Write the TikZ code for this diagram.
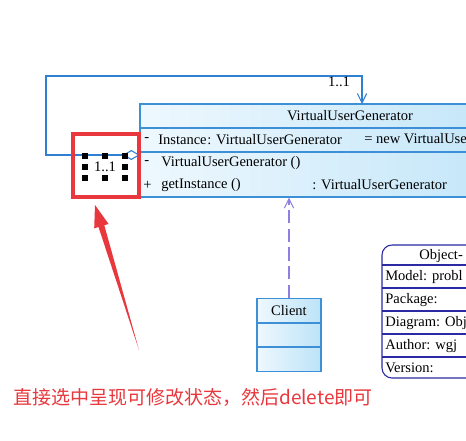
\documentclass[tikz,border=0pt]{standalone}
\usepackage{fontspec}
\setmainfont{Liberation Serif}
\newfontfamily\cjk{Noto Sans CJK SC}
\usetikzlibrary{arrows.meta,shapes.geometric}
\definecolor{clsborder}{HTML}{3D8FD6}
\definecolor{clsL}{HTML}{EEF8FE}
\definecolor{clsR}{HTML}{BCE3F8}
\definecolor{assocc}{HTML}{2F7FD3}
\definecolor{depc}{HTML}{8C80E0}
\definecolor{navy}{HTML}{2A2AA6}
\definecolor{hl}{HTML}{E8383D}
\begin{document}
\begin{tikzpicture}[x=0.75pt,y=-0.75pt,
  txt/.style={inner sep=0pt, font=\fontsize{10.9}{13}\selectfont},
  wtxt/.style={txt, anchor=west},
  classbox/.style={draw=clsborder, line width=0.8pt, left color=clsL, right color=clsR, inner sep=0pt},
  clsline/.style={draw=clsborder, line width=0.8pt},
  assocline/.style={draw=assocc, line width=0.8pt},
  depline/.style={draw=depc, line width=0.8pt, dash pattern=on 10pt off 4pt},
  handle/.style={fill=black},
  objline/.style={draw=navy, line width=0.8pt}]
\useasboundingbox (0,0) rectangle (466,440);
\clip (0,0) rectangle (466,440);
\fill[white] (0,0) rectangle (466,440);

% main class
\node[classbox, minimum width=315pt, minimum height=69.75pt] (vug) at (350,150.5) {};
\draw[clsline] (140,128) -- (560,128);
\draw[clsline] (140,152) -- (560,152);
\node[txt] (vugname) at (350,116) {VirtualUserGenerator};
\node[wtxt] (a1) at (144,140) {-};
\node[wtxt] (a2) at (158,140) {Instance};
\node[wtxt] (a3) at (207,140) {: VirtualUserGenerator};
\node[wtxt] (a4) at (364,140) {= new VirtualUserGenerator ()};
\node[wtxt] (o1) at (144,163) {-};
\node[wtxt] (o2) at (161,163) {VirtualUserGenerator ()};
\node[wtxt] (o3) at (143,185) {+};
\node[wtxt] (o4) at (161,185) {getInstance ()};
\node[wtxt] (o5) at (312,185) {: VirtualUserGenerator};

% client
\node[classbox, minimum width=48pt, minimum height=54.75pt] (client) at (289,335) {};
\draw[clsline] (257,323) -- (321,323);
\draw[clsline] (257,347) -- (321,347);
\node[txt] (clientname) at (289,311) {Client};

% dependency
\draw[depline, -{Straight Barb[length=7pt,width=7pt]}] (client.north) -- (client.north |- vug.south);

% self association
\coordinate (saS) at (140,155);
\coordinate (saE) at (362,104);
\draw[assocline, {Diamond[open,fill=white,length=13pt,width=7.5pt]}-{Straight Barb[length=7pt,width=7pt]}]
  (saS) -- (46,155) -- (46,76) -- (362,76) -- (saE);
\node[txt] (m1) at (339,82) {1..1};

% selection
\foreach \hx/\hy in {85/156,105/156,125/156,85/167,125/167,85/178,105/178,125/178}
  \fill[handle] (\hx-2.8,\hy-2.8) rectangle ++(5.6,5.6);
\node[txt] (m2) at (105,166.5) {1..1};
\node[draw=hl, line width=2.4pt, minimum width=49.5pt, minimum height=47.25pt, inner sep=0pt] (sel) at (106,165.5) {};

% red arrow
\fill[hl] (139,350) -- (104.3,225.2) -- (108.6,224.0) -- (95,205) -- (94.2,228.3) -- (98.5,227.0) -- cycle;

% note
\node[anchor=west, inner sep=0pt, text=hl, font=\cjk\fontsize{14.25}{16}\selectfont] (note) at (13,397) {直接选中呈现可修改状态，然后delete即可};

% object info box
\draw[objline, fill=white, rounded corners=7.5pt] (480,245) -- (382,245) -- (382,378) -- (480,378);
\foreach \ry in {265,288,311,334,357}
  \draw[objline] (382,\ry) -- (480,\ry);
\node[wtxt] (oh) at (419,255.5) {Object-};
\node[wtxt] (r1) at (385,277) {Model: probl};
\node[wtxt] (r2) at (385,300) {Package:};
\node[wtxt] (r3) at (385,323) {Diagram: Obj};
\node[wtxt] (r4) at (385,346) {Author: wgj};
\node[wtxt] (r5) at (385,368) {Version:};
\end{tikzpicture}
\end{document}
